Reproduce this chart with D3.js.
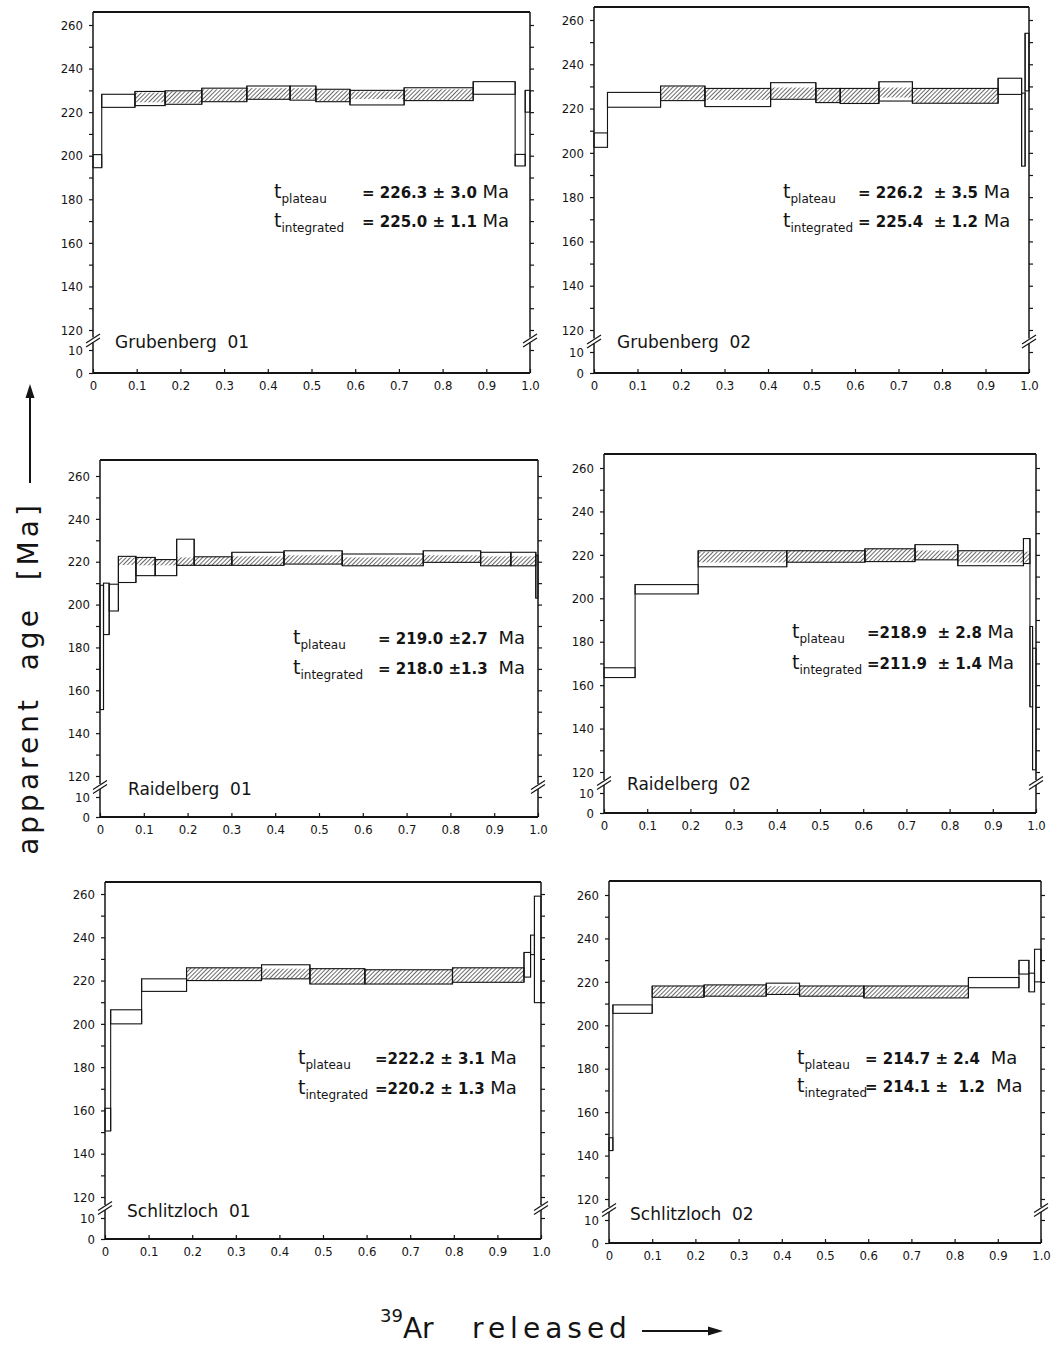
<!DOCTYPE html>
<html>
<head>
<meta charset="utf-8">
<script src="https://cdn.jsdelivr.net/npm/d3@7"></script>
<style>
  html, body { margin: 0; padding: 0; background: #fff; }
  svg { display: block; font-family: "DejaVu Sans", sans-serif; }
</style>
</head>
<body>
<div id="root"></div>
<script>
// step boundaries = cumulative fraction of 39Ar released, ages in Ma
// lo/hi = step box, hatchLo/hatchHi = hatched plateau part (null = not in plateau)
const grub01Frac = [0, 0.020, 0.096, 0.165, 0.249, 0.352, 0.451, 0.510, 0.588, 0.712, 0.870, 0.966, 0.989, 1.0];
const grub01Lo = [194.5, 222.2, 223.0, 223.6, 224.8, 225.9, 225.5, 224.8, 223.3, 225.3, 228.2, 195.3, 220.0];
const grub01Hi = [200.5, 228.2, 229.5, 229.8, 231.0, 232.0, 232.0, 230.5, 230.0, 231.2, 234.0, 200.6, 230.0];
const grub01HatchLo = [null, null, 224.5, 224.0, 225.0, 226.0, 226.0, 225.0, 226.0, 225.5, null, null, null];
const grub01HatchHi = [null, null, 229.0, 229.5, 230.5, 231.0, 231.0, 230.0, 229.5, 230.5, null, null, null];

const grub02Frac = [0, 0.031, 0.153, 0.255, 0.406, 0.510, 0.566, 0.655, 0.732, 0.929, 0.983, 0.991, 1.0];
const grub02Lo = [202.5, 220.6, 223.6, 220.9, 224.2, 222.7, 222.3, 223.4, 222.4, 226.4, 194.0, 228.0];
const grub02Hi = [209.0, 227.3, 230.2, 229.1, 231.7, 229.1, 229.1, 232.1, 229.1, 233.7, 227.0, 254.0];
const grub02HatchLo = [null, null, 224.0, 223.9, 224.5, 223.0, 222.5, 225.0, 222.5, null, null, null];
const grub02HatchHi = [null, null, 230.0, 228.8, 229.5, 229.0, 229.0, 229.5, 229.0, null, null, null];

const raid01Frac = [0, 0.008, 0.021, 0.042, 0.082, 0.126, 0.175, 0.215, 0.301, 0.420, 0.553, 0.738, 0.869, 0.938, 0.995, 1.0];
const raid01Lo = [151.0, 186.0, 197.0, 210.3, 213.5, 213.5, 218.3, 218.3, 218.3, 218.9, 218.1, 219.7, 218.1, 218.1, 203.0];
const raid01Hi = [209.0, 210.0, 209.5, 222.5, 222.0, 221.0, 230.5, 222.3, 224.4, 225.1, 223.6, 225.1, 224.4, 224.4, 223.0];
const raid01HatchLo = [null, null, null, 218.5, 218.3, 218.3, 218.3, 218.3, 218.5, 219.0, 218.3, 219.7, 218.3, 218.3, null];
const raid01HatchHi = [null, null, null, 222.0, 222.0, 221.0, 222.0, 222.3, 222.5, 223.0, 222.0, 223.0, 222.5, 222.5, null];

const raid02Frac = [0, 0.072, 0.218, 0.423, 0.604, 0.720, 0.819, 0.971, 0.986, 0.992, 1.0];
const raid02Lo = [163.5, 202.0, 214.5, 216.6, 216.9, 217.7, 215.0, 216.0, 150.0, 121.0];
const raid02Hi = [168.0, 206.3, 221.9, 221.9, 222.8, 224.7, 221.9, 227.5, 187.0, 177.0];
const raid02HatchLo = [null, null, 216.5, 216.6, 216.9, 217.7, 216.5, 216.5, null, null];
const raid02HatchHi = [null, null, 221.5, 221.9, 222.8, 222.0, 221.5, 221.5, null, null];

const schl01Frac = [0, 0.013, 0.084, 0.187, 0.359, 0.470, 0.596, 0.797, 0.961, 0.976, 0.985, 1.0];
const schl01Lo = [150.5, 200.0, 215.0, 220.0, 220.8, 218.4, 218.4, 219.2, 221.6, 232.0, 209.8];
const schl01Hi = [161.0, 206.5, 220.8, 225.9, 227.3, 225.5, 225.0, 225.9, 233.0, 241.0, 259.0];
const schl01HatchLo = [null, null, null, 220.0, 221.0, 218.4, 218.4, 219.2, null, null, null];
const schl01HatchHi = [null, null, null, 225.9, 225.5, 225.5, 225.0, 225.9, null, null, null];

const schl02Frac = [0, 0.009, 0.100, 0.220, 0.364, 0.441, 0.590, 0.832, 0.949, 0.972, 0.985, 1.0];
const schl02Lo = [142.3, 205.5, 212.9, 213.4, 214.2, 213.4, 212.6, 217.3, 223.6, 215.4, 220.0];
const schl02Hi = [148.2, 209.4, 218.1, 218.6, 219.4, 218.1, 218.1, 222.0, 229.9, 224.0, 235.0];
const schl02HatchLo = [null, null, 212.9, 213.4, 214.2, 213.4, 212.6, null, null, null, null];
const schl02HatchHi = [null, null, 218.1, 218.6, 218.0, 218.1, 218.1, null, null, null, null];

const sampleNames = ["Grubenberg  01", "Grubenberg  02", "Raidelberg  01", "Raidelberg  02", "Schlitzloch  01", "Schlitzloch  02"];
const plateauAges = ["226.3 ± 3.0", "226.2  ± 3.5", "219.0 ±2.7 ", "218.9  ± 2.8", "222.2 ± 3.1", "214.7 ± 2.4 "];
const integratedAges = ["225.0 ± 1.1", "225.4  ± 1.2", "218.0 ±1.3 ", "211.9  ± 1.4", "220.2 ± 1.3", "214.1 ±  1.2 "];
const eqSigns = ["= ", "= ", "= ", "=", "=", "= "];

const yMajor = [120, 140, 160, 180, 200, 220, 240, 260];
const yMinor = [130, 150, 170, 190, 210, 230, 250];
const xTicks = [0, 0.1, 0.2, 0.3, 0.4, 0.5, 0.6, 0.7, 0.8, 0.9, 1.0];

const series = [
  [grub01Frac, grub01Lo, grub01Hi, grub01HatchLo, grub01HatchHi],
  [grub02Frac, grub02Lo, grub02Hi, grub02HatchLo, grub02HatchHi],
  [raid01Frac, raid01Lo, raid01Hi, raid01HatchLo, raid01HatchHi],
  [raid02Frac, raid02Lo, raid02Hi, raid02HatchLo, raid02HatchHi],
  [schl01Frac, schl01Lo, schl01Hi, schl01HatchLo, schl01HatchHi],
  [schl02Frac, schl02Lo, schl02Hi, schl02HatchLo, schl02HatchHi],
];

// panel placement on the page (scanned figure, so not perfectly regular)
const layout = [
  { x0: 93, x1: 530, top: 12, y260: 25, y120: 330, y10: 350, y0: 373, tx: 274, vx: 362, ty1: 198, ty2: 227, lx: 115, ly: 348 },
  { x0: 594, x1: 1029, top: 7, y260: 20, y120: 330, y10: 352, y0: 373, tx: 783, vx: 858, ty1: 198, ty2: 227, lx: 617, ly: 348 },
  { x0: 100, x1: 538, top: 460, y260: 476, y120: 776, y10: 797, y0: 817, tx: 293, vx: 378, ty1: 644, ty2: 674, lx: 128, ly: 795 },
  { x0: 604, x1: 1036, top: 454, y260: 468, y120: 772, y10: 793, y0: 813, tx: 792, vx: 867, ty1: 638, ty2: 669, lx: 627, ly: 790 },
  { x0: 105, x1: 541, top: 882, y260: 894, y120: 1197, y10: 1218, y0: 1239, tx: 298, vx: 375, ty1: 1064, ty2: 1094, lx: 127, ly: 1217 },
  { x0: 609, x1: 1041, top: 881, y260: 895, y120: 1199, y10: 1220, y0: 1243, tx: 797, vx: 865, ty1: 1064, ty2: 1092, lx: 630, ly: 1220 },
];

const ink = "#141414";
const width = 1061, height = 1346;
const svg = d3.create("svg").attr("width", width).attr("height", height).attr("viewBox", [0, 0, width, height]);

const pat = svg.append("defs").append("pattern")
  .attr("id", "hatch").attr("patternUnits", "userSpaceOnUse")
  .attr("width", 3).attr("height", 3)
  .attr("patternTransform", "rotate(45)");
pat.append("line").attr("x1", 0).attr("y1", 0).attr("x2", 0).attr("y2", 3)
  .attr("stroke", "#1a1a1a").attr("stroke-width", 1.3);

layout.forEach((L, p) => {
  const [frac, lo, hi, hLo, hHi] = series[p];
  const g = svg.append("g");
  const x = d3.scaleLinear().domain([0, 1]).range([L.x0, L.x1]);
  const y = d3.scaleLinear().domain([120, 260]).range([L.y120, L.y260]);
  const yLow = d3.scaleLinear().domain([0, 10]).range([L.y0, L.y10]);
  const yb = (L.y120 + L.y10) / 2;

  const steps = lo.map((d, i) => ({ a: frac[i], b: frac[i + 1], lo: d, hi: hi[i], hlo: hLo[i], hhi: hHi[i] }));

  // hatched plateau steps
  g.append("g").selectAll("rect")
    .data(steps.filter(d => d.hlo != null))
    .join("rect")
    .attr("x", d => x(d.a)).attr("width", d => x(d.b) - x(d.a))
    .attr("y", d => y(d.hhi)).attr("height", d => y(d.hlo) - y(d.hhi))
    .attr("fill", "url(#hatch)");

  // step boxes
  g.append("g").selectAll("rect")
    .data(steps)
    .join("rect")
    .attr("x", d => x(d.a)).attr("width", d => x(d.b) - x(d.a))
    .attr("y", d => y(d.hi)).attr("height", d => y(d.lo) - y(d.hi))
    .attr("fill", "none").attr("stroke", ink).attr("stroke-width", 1.1);

  // vertical joins between consecutive steps
  g.append("g").selectAll("line")
    .data(steps.slice(1).map((d, i) => ({ f: d.a, v: [d.lo, d.hi, steps[i].lo, steps[i].hi] })))
    .join("line")
    .attr("x1", d => x(d.f)).attr("x2", d => x(d.f))
    .attr("y1", d => y(d3.min(d.v))).attr("y2", d => y(d3.max(d.v)))
    .attr("stroke", ink).attr("stroke-width", 1.1);

  // frame
  const fr = g.append("g").attr("stroke", ink).attr("fill", "none");
  fr.append("line").attr("x1", L.x0).attr("x2", L.x1).attr("y1", L.top).attr("y2", L.top).attr("stroke-width", 1.8);
  fr.append("line").attr("x1", L.x0).attr("x2", L.x1).attr("y1", L.y0).attr("y2", L.y0).attr("stroke-width", 1.8);
  [L.x0, L.x1].forEach(xx => {
    fr.append("line").attr("x1", xx).attr("x2", xx).attr("y1", L.top).attr("y2", yb - 2.5).attr("stroke-width", 1.5);
    fr.append("line").attr("x1", xx).attr("x2", xx).attr("y1", yb + 2.5).attr("y2", L.y0).attr("stroke-width", 1.5);
    fr.append("line").attr("x1", xx - 7).attr("x2", xx + 7).attr("y1", yb + 3).attr("y2", yb - 6).attr("stroke-width", 1.2);
    fr.append("line").attr("x1", xx - 7).attr("x2", xx + 7).attr("y1", yb + 7).attr("y2", yb - 2).attr("stroke-width", 1.2);
  });

  // axes
  const style = sel => {
    sel.select(".domain").remove();
    sel.selectAll("line").attr("stroke", ink).attr("stroke-width", 1.2);
    sel.selectAll("text").attr("fill", ink).attr("font-size", 13).attr("font-family", "DejaVu Sans Condensed, DejaVu Sans, sans-serif");
  };
  g.append("g").attr("transform", `translate(${L.x0},0)`)
    .call(d3.axisLeft(y).tickValues(yMajor.concat(yMinor)).tickSize(4).tickPadding(6)
      .tickFormat(d => yMajor.includes(d) ? d : ""))
    .call(style);
  g.append("g").attr("transform", `translate(${L.x0},0)`)
    .call(d3.axisLeft(yLow).tickValues([0, 10]).tickSize(4).tickPadding(6))
    .call(style);
  g.append("g").attr("transform", `translate(${L.x1},0)`)
    .call(d3.axisRight(y).tickValues(yMajor.concat(yMinor)).tickSize(4).tickFormat(""))
    .call(style);
  g.append("g").attr("transform", `translate(${L.x1},0)`)
    .call(d3.axisRight(yLow).tickValues([10]).tickSize(4).tickFormat(""))
    .call(style);
  g.append("g").attr("transform", `translate(0,${L.y0})`)
    .call(d3.axisBottom(x).tickValues(xTicks).tickSize(-4).tickPadding(8)
      .tickFormat(d => d === 0 ? "0" : d.toFixed(1)))
    .call(style);

  // ages
  const ages = [["plateau", plateauAges[p], L.ty1], ["integrated", integratedAges[p], L.ty2]];
  ages.forEach(([sub, val, ty]) => {
    const t = g.append("text").attr("x", L.tx).attr("y", ty).attr("fill", ink).attr("font-size", 19);
    t.append("tspan").text("t");
    t.append("tspan").attr("font-size", 12).attr("dy", 5).text(sub);
    const v = g.append("text").attr("x", L.vx).attr("y", ty).attr("fill", ink)
      .attr("font-size", 15).attr("font-weight", "bold").style("white-space", "pre");
    v.append("tspan").text(eqSigns[p] + val);
    v.append("tspan").attr("font-weight", "normal").attr("font-size", 18).text(" Ma");
  });

  g.append("text").attr("x", L.lx).attr("y", L.ly).attr("fill", ink)
    .attr("font-size", 17).style("white-space", "pre").text(sampleNames[p]);
});

// global axis titles
svg.append("text")
  .attr("transform", "translate(38,678) rotate(-90)")
  .attr("text-anchor", "middle").attr("font-size", 28).attr("letter-spacing", 4)
  .attr("fill", ink).style("white-space", "pre")
  .text("apparent  age  [Ma]");
svg.append("line").attr("x1", 30).attr("x2", 30).attr("y1", 483).attr("y2", 396)
  .attr("stroke", ink).attr("stroke-width", 2);
svg.append("path").attr("d", "M30,384 L25.5,398 L34.5,398 Z").attr("fill", ink);

const xl = svg.append("text").attr("x", 380).attr("y", 1338).attr("fill", ink).attr("font-size", 28);
xl.append("tspan").attr("font-size", 18).attr("dy", -16).text("39");
xl.append("tspan").attr("dy", 16).text("Ar");
svg.append("text").attr("x", 472).attr("y", 1338).attr("fill", ink).attr("font-size", 28)
  .attr("letter-spacing", 5).text("released");
svg.append("line").attr("x1", 642).attr("x2", 710).attr("y1", 1331).attr("y2", 1331)
  .attr("stroke", ink).attr("stroke-width", 2);
svg.append("path").attr("d", "M723,1331 L708,1326.5 L708,1335.5 Z").attr("fill", ink);

d3.select("#root").append(() => svg.node());
</script>
</body>
</html>
